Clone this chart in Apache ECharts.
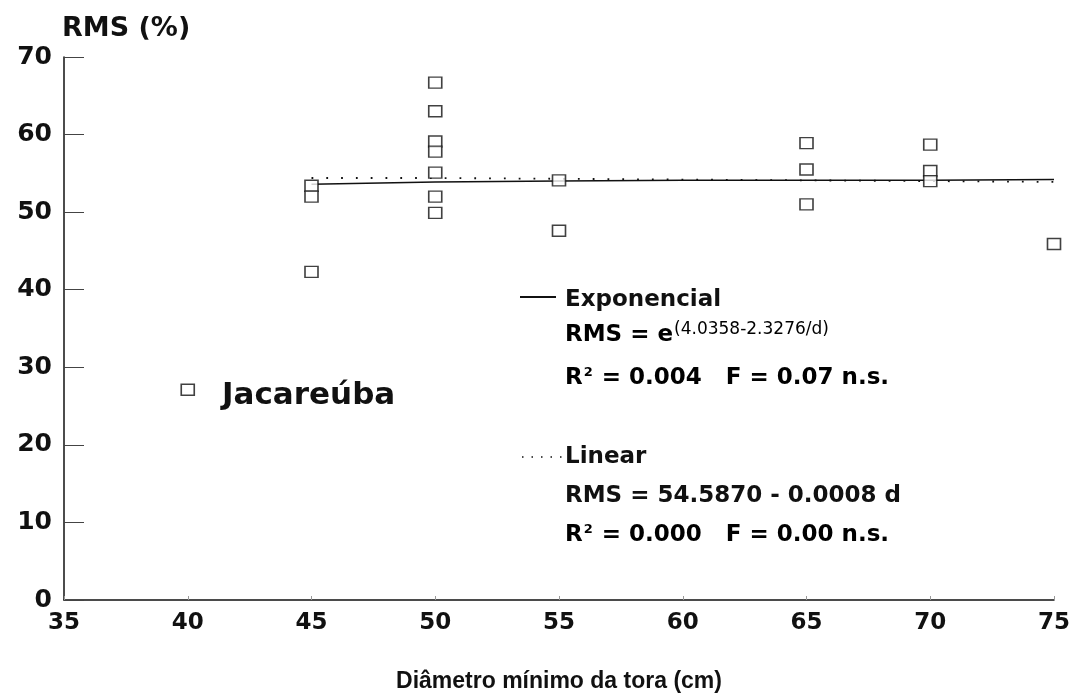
<!DOCTYPE html>
<html>
<head>
<meta charset="utf-8">
<script src="https://cdn.jsdelivr.net/npm/echarts@6/dist/echarts.min.js"></script>
<style>
  html, body { margin: 0; padding: 0; background: #fff; }
  #chart { width: 1077px; height: 698px; }
</style>
</head>
<body>
<div id="chart"></div>
<script>
// observações (diâmetro mínimo, RMS %)
const obsDiam = [40, 45, 45, 45, 50, 50, 50, 50, 50, 50, 50, 55, 55, 65, 65, 65, 70, 70, 70, 75]
const obsRms = [27.1, 53.4, 52.0, 42.3, 66.7, 63.0, 59.1, 57.8, 55.1, 52.0, 49.9, 54.1, 47.6, 58.9, 55.5, 51.0, 58.7, 55.3, 54.0, 45.9]

// curvas ajustadas
const fitDiam = [45, 50, 55, 60, 65, 70, 75]
const expRms = [53.6, 53.9, 54.0, 54.1, 54.1, 54.1, 54.2]
const linRms = [54.4, 54.4, 54.3, 54.2, 54.1, 54.0, 53.9]

const xTicks = [35, 40, 45, 50, 55, 60, 65, 70, 75]
const yTicks = [0, 10, 20, 30, 40, 50, 60, 70]

const font = "'DejaVu Sans', 'Liberation Sans', sans-serif"
const font2 = "'Liberation Sans', Arial, sans-serif"
const ink = '#111'

const chart = echarts.init(document.getElementById('chart'), null, {renderer: 'canvas'})

const rich = {
  b: {fontFamily: font, fontSize: 23, fontWeight: 'bold', color: ink},
  s: {fontFamily: font, fontSize: 13, fontWeight: 'bold', color: ink, padding: [0, 1, 12, 1]},
  e: {fontFamily: font, fontSize: 17, color: ink, padding: [0, 0, 12, 1]}
}

chart.setOption({
  animation: false,
  backgroundColor: '#fff',
  grid: {left: 64, right: 23, top: 57, bottom: 98},
  xAxis: {
    type: 'value',
    min: xTicks[0],
    max: xTicks[xTicks.length - 1],
    interval: 5,
    name: 'Diâmetro mínimo da tora (cm)',
    nameLocation: 'middle',
    nameGap: 70,
    nameTextStyle: {fontFamily: font2, fontSize: 23, fontWeight: 'bold', color: ink},
    axisLine: {lineStyle: {color: ink, width: 1.5}},
    axisTick: {inside: true, length: 4, lineStyle: {color: '#999'}},
    splitLine: {show: false},
    axisLabel: {fontFamily: font, fontSize: 23, fontWeight: 'bold', color: ink, margin: 12}
  },
  yAxis: {
    type: 'value',
    min: yTicks[0],
    max: yTicks[yTicks.length - 1],
    interval: 10,
    name: 'RMS (%)',
    nameLocation: 'end',
    nameGap: 15,
    nameTextStyle: {fontFamily: font, fontSize: 27, fontWeight: 'bold', color: ink, align: 'left', padding: [0, 0, 0, -2]},
    axisLine: {show: true, lineStyle: {color: ink, width: 1.5}},
    axisTick: {show: true, inside: true, length: 20, lineStyle: {color: '#444'}},
    splitLine: {show: false},
    axisLabel: {fontFamily: font, fontSize: 25, fontWeight: 'bold', color: ink, margin: 12}
  },
  series: [
    {
      name: 'Exponencial',
      type: 'line',
      data: fitDiam.map((d, i) => [d, expRms[i]]),
      showSymbol: false,
      lineStyle: {color: ink, width: 1.5},
      z: 2
    },
    {
      name: 'Linear',
      type: 'line',
      data: fitDiam.map((d, i) => [d, linRms[i]]),
      showSymbol: false,
      lineStyle: {color: ink, width: 1.8, type: [1.8, 13]},
      z: 2
    },
    {
      name: 'Observado',
      type: 'scatter',
      data: obsDiam.map((d, i) => [d, obsRms[i]]),
      symbol: 'rect',
      symbolSize: [13, 11],
      itemStyle: {color: '#fff', borderColor: ink, borderWidth: 1.5},
      z: 3
    }
  ],
  graphic: [
    {type: 'text', left: 222, top: 380, style: {text: 'Jacareúba', fontFamily: font, fontSize: 31, fontWeight: 'bold', fill: ink}},
    // legenda / equações
    {type: 'line', shape: {x1: 520, y1: 297, x2: 556, y2: 297}, style: {stroke: ink, lineWidth: 2}},
    {type: 'text', left: 565, top: 289, style: {text: 'Exponencial', fontFamily: font, fontSize: 23, fontWeight: 'bold', fill: ink}},
    {type: 'text', left: 565, top: 321, style: {rich: rich, text: '{b|RMS = e}{e|(4.0358-2.3276/d)}'}},
    {type: 'text', left: 565, top: 366, style: {rich: rich, text: '{b|R}{s|2}{b| = 0.004   F = 0.07 n.s.}'}},
    {type: 'line', shape: {x1: 522, y1: 457, x2: 562, y2: 457}, style: {stroke: ink, lineWidth: 1.5, lineDash: [1.5, 8]}},
    {type: 'text', left: 565, top: 446, style: {text: 'Linear', fontFamily: font, fontSize: 23, fontWeight: 'bold', fill: ink}},
    {type: 'text', left: 565, top: 485, style: {text: 'RMS = 54.5870 - 0.0008 d', fontFamily: font, fontSize: 23, fontWeight: 'bold', fill: ink}},
    {type: 'text', left: 565, top: 523, style: {rich: rich, text: '{b|R}{s|2}{b| = 0.000   F = 0.00 n.s.}'}}
  ]
})
</script>
</body>
</html>
